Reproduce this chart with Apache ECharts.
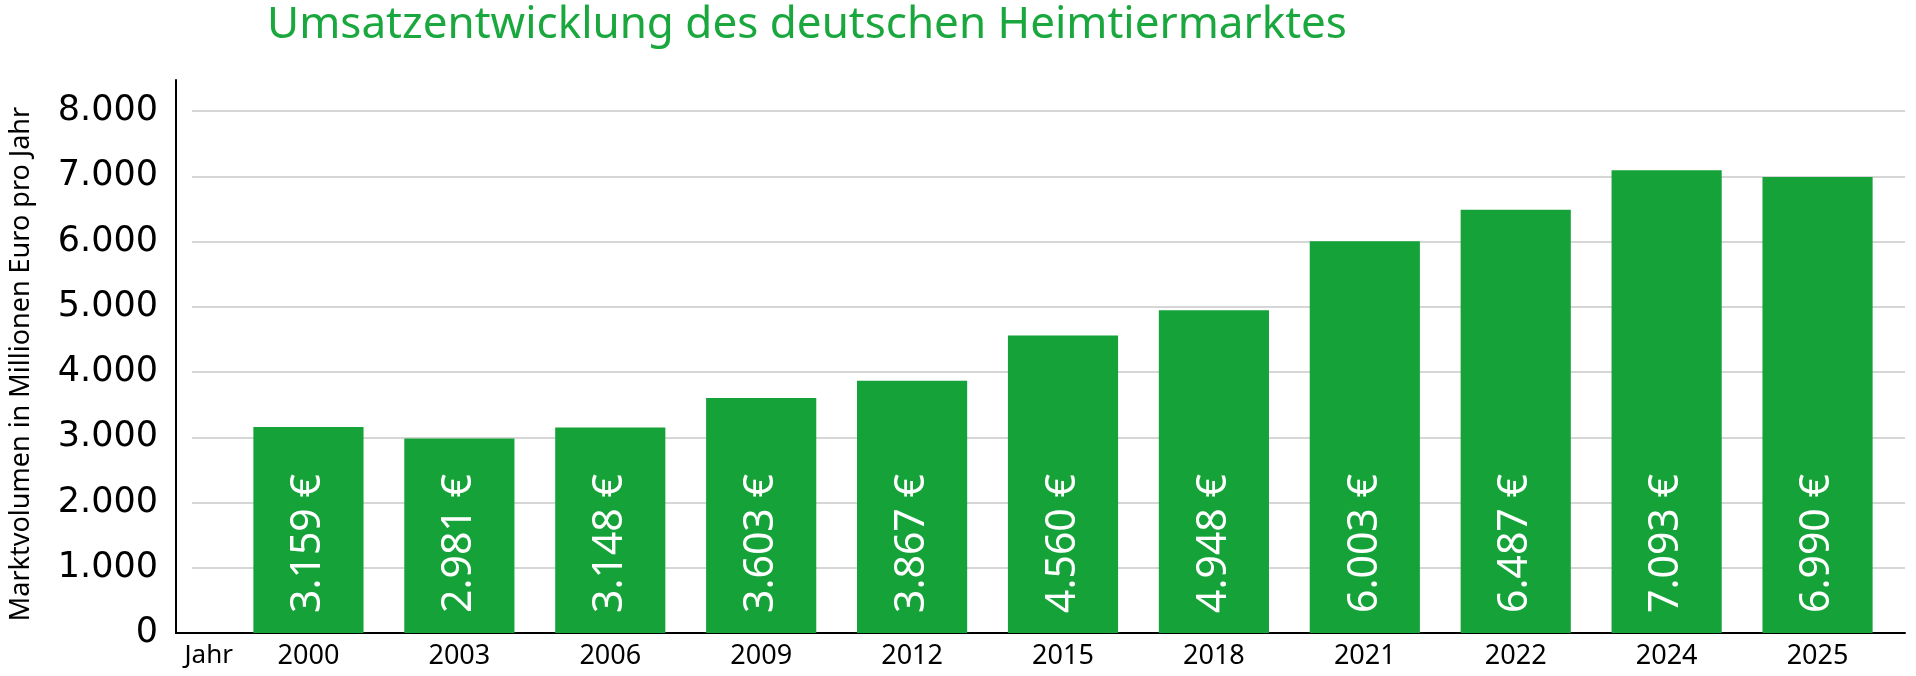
<!DOCTYPE html>
<html>
<head>
<meta charset="utf-8">
<script src="https://cdn.jsdelivr.net/npm/echarts@6/dist/echarts.min.js"></script>
<style>
  html, body { margin: 0; padding: 0; background: #fff; }
  #chart { width: 1916px; height: 676px; }
</style>
</head>
<body>
<div id="chart"></div>
<script>
// Umsatz Heimtiermarkt, Mio. Euro
const years = ["2000", "2003", "2006", "2009", "2012", "2015", "2018", "2021", "2022", "2024", "2025"];
const umsatz = [3159, 2981, 3148, 3603, 3867, 4560, 4948, 6003, 6487, 7093, 6990];
const yTicks = [0, 1000, 2000, 3000, 4000, 5000, 6000, 7000, 8000];

const GREEN = "#15a339";

// Tausenderpunkt wie im Original
const fmt = (v) => String(v).replace(/\B(?=(\d{3})+(?!\d))/g, ".");

const chart = echarts.init(document.getElementById("chart"));

chart.setOption({
  animation: false,
  title: {
    text: "Umsatzentwicklung des deutschen Heimtiermarktes",
    left: 802,
    top: -2,
    textAlign: "center",
    textStyle: {
      color: "#1aa83e",
      fontFamily: "Noto Sans",
      fontWeight: "normal",
      fontSize: 44,
    },
  },
  grid: [
    // Rahmen (Achsenlinien)
    { left: 176, right: 11, top: 80, bottom: 43 },
    // Gitterlinien + Beschriftung
    { left: 176, right: 11, top: 111, bottom: 43 },
    // Balken
    { left: 233, right: 23, top: 111, bottom: 43 },
  ],
  xAxis: [
    {
      gridIndex: 0,
      type: "value",
      min: 0,
      max: 1,
      axisLine: { show: true, lineStyle: { color: "#000", width: 2 } },
      axisTick: { show: false },
      axisLabel: { show: false },
      splitLine: { show: false },
    },
    {
      gridIndex: 1,
      type: "value",
      show: false,
    },
    {
      gridIndex: 2,
      type: "category",
      data: years,
      axisLine: { show: false },
      axisTick: { show: false },
      axisLabel: {
        color: "#000",
        fontFamily: "Noto Sans",
        fontSize: 27,
        margin: 10,
      },
      name: "Jahr",
      nameLocation: "start",
      nameGap: 0,
      nameTextStyle: {
        color: "#000",
        fontFamily: "Noto Sans",
        fontSize: 26,
        align: "right",
        verticalAlign: "top",
        padding: [10, 0, 0, 0],
      },
    },
  ],
  yAxis: [
    {
      gridIndex: 0,
      type: "value",
      min: 0,
      max: 1,
      axisLine: { show: true, lineStyle: { color: "#000", width: 2 } },
      axisTick: { show: false },
      axisLabel: { show: false },
      splitLine: { show: false },
    },
    {
      gridIndex: 1,
      type: "value",
      min: yTicks[0],
      max: yTicks[yTicks.length - 1],
      interval: 1000,
      axisLine: { show: false },
      axisTick: { show: false },
      axisLabel: {
        color: "#000",
        fontFamily: "DejaVu Sans",
        fontSize: 35,
        margin: 34,
        formatter: (v) => fmt(v),
      },
      splitLine: { lineStyle: { color: "#c8c8c8", width: 1.5 } },
      name: "Marktvolumen in Millionen Euro pro Jahr",
      nameLocation: "middle",
      nameGap: 157,
      nameTextStyle: {
        color: "#000",
        fontFamily: "Noto Sans",
        fontSize: 27,
        padding: [0, 0, 0, 16],
      },
    },
    {
      gridIndex: 2,
      type: "value",
      min: 0,
      max: 8000,
      show: false,
    },
  ],
  series: [
    {
      type: "bar",
      xAxisIndex: 2,
      yAxisIndex: 2,
      data: umsatz,
      barWidth: "73%",
      itemStyle: { color: GREEN },
      label: {
        show: true,
        position: "insideBottom",
        rotate: 90,
        align: "left",
        verticalAlign: "middle",
        distance: 20,
        color: "#fff",
        fontFamily: "Noto Sans",
        fontSize: 41,
        formatter: (p) => fmt(p.value) + " €",
      },
    },
  ],
});
</script>
</body>
</html>
